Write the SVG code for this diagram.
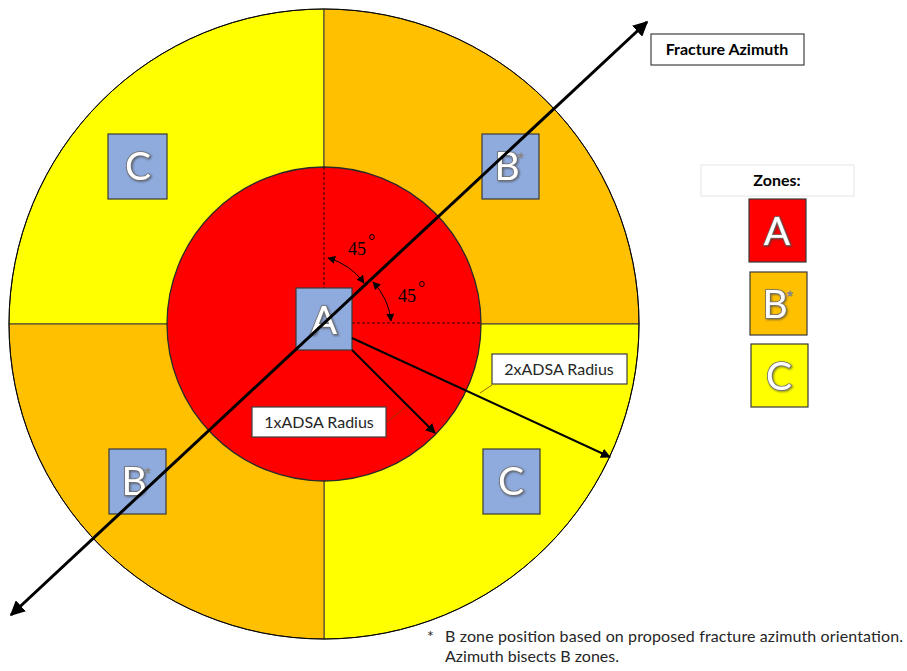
<svg xmlns="http://www.w3.org/2000/svg" width="907" height="671" viewBox="0 0 907 671">
<style>
.zone{stroke:#3a3a3a;stroke-width:1}
.box{fill:#8FAADC;stroke:#3a3a3a;stroke-width:1.2}
.let{font-family:Lato,"Open Sans","Liberation Sans",sans-serif;font-size:39px;fill:#ffffff;text-anchor:middle;stroke:#707070;stroke-width:1.6;paint-order:stroke;filter:url(#sh)}
.ast{font-family:"Liberation Sans",sans-serif;font-size:15px;fill:#ffffff;stroke:#808080;stroke-width:0.7}
.lbl{fill:#ffffff;stroke:#404040;stroke-width:1.2}
.t{font-family:Lato,"Liberation Sans",sans-serif;font-size:16px;fill:#262626;text-anchor:middle}
.b{font-weight:bold;fill:#000}
.deg{font-family:"Liberation Serif","DejaVu Serif",serif;font-size:18px;fill:#000}
.dash{stroke:#000;stroke-width:0.8;stroke-dasharray:3 2;fill:none}
.ang{stroke:#000;stroke-width:1;fill:none;marker-start:url(#ah);marker-end:url(#ah)}
.rad{stroke:#000;stroke-width:2;fill:none;marker-end:url(#ar)}
.lead{stroke:#7f3f00;stroke-width:0.8;fill:none}
</style>
<defs>
<filter id="sh" x="-20%" y="-20%" width="140%" height="140%">
<feDropShadow dx="1" dy="1" stdDeviation="0.8" flood-color="#404040" flood-opacity="0.7"/>
</filter>
<marker id="az" viewBox="0 0 10 10" refX="9" refY="5" markerWidth="5" markerHeight="5" orient="auto-start-reverse" markerUnits="strokeWidth">
<path d="M0,0 L10,5 L0,10 Z" fill="#000"/>
</marker>
<marker id="ar" viewBox="0 0 10 10" refX="9" refY="5" markerWidth="5" markerHeight="5" orient="auto-start-reverse" markerUnits="strokeWidth">
<path d="M0,0 L10,5 L0,10 Z" fill="#000"/>
</marker>
<marker id="ah" viewBox="0 0 10 10" refX="9" refY="5" markerWidth="8" markerHeight="8" orient="auto-start-reverse" markerUnits="strokeWidth">
<path d="M0,0 L10,5 L0,10 Z" fill="#000"/>
</marker>
</defs>
<rect width="907" height="671" fill="#ffffff"/>

<g id="zones">
<path class="zone" fill="#FFFF00" d="M324,324 L9,324 A315,315 0 0 1 324,9 Z"/>
<path class="zone" fill="#FFC000" d="M324,324 L324,9 A315,315 0 0 1 639,324 Z"/>
<path class="zone" fill="#FFFF00" d="M324,324 L639,324 A315,315 0 0 1 324,639 Z"/>
<path class="zone" fill="#FFC000" d="M324,324 L324,639 A315,315 0 0 1 9,324 Z"/>
<circle cx="324" cy="324" r="315" fill="none" stroke="#000" stroke-width="1"/>
<circle id="zoneA" cx="324" cy="324" r="157" fill="#FF0000" stroke="#2a2a2a" stroke-width="1.3"/>
</g>

<g id="angles">
<line class="dash" x1="324" y1="167" x2="324" y2="288"/>
<line class="dash" x1="352" y1="323" x2="481" y2="323"/>
<path class="ang" d="M328,258 A66,66 0 0 1 364,283"/>
<path class="ang" d="M373,282 A66,66 0 0 1 391,321"/>
<text class="deg" x="348" y="255">45</text><text class="deg" x="368" y="247" font-size="10">°</text>
<text class="deg" x="398" y="302">45</text><text class="deg" x="418" y="294" font-size="10">°</text>
</g>

<g id="node-C1"><rect class="box" x="108" y="134" width="59" height="65"/><text class="let" x="138" y="180">C</text></g>
<g id="node-B1"><rect class="box" x="482" y="134" width="57" height="65"/><text class="let" x="507" y="180">B</text><text class="ast" x="518" y="163">*</text></g>
<g id="node-B2"><rect class="box" x="109" y="449" width="57" height="65"/><text class="let" x="134" y="495">B</text><text class="ast" x="145" y="478">*</text></g>
<g id="node-C2"><rect class="box" x="483" y="449" width="57" height="65"/><text class="let" x="511" y="495">C</text></g>
<g id="node-A"><rect class="box" x="296" y="288" width="56" height="62"/><text class="let" x="324" y="334">A</text></g>

<g id="connectors">
<line class="rad" x1="352" y1="350" x2="435" y2="433"/>
<line class="rad" x1="352" y1="338" x2="610" y2="457"/>
<line class="lead" x1="387" y1="422" x2="407" y2="406"/>
<line class="lead" x1="480" y1="393" x2="492" y2="385"/>
<line stroke="#000" stroke-width="3" x1="11" y1="615" x2="647" y2="22" marker-start="url(#az)" marker-end="url(#az)"/>
</g>

<g id="label-1x"><rect class="lbl" x="252" y="407" width="134" height="30"/><text class="t" x="319" y="428">1xADSA Radius</text></g>
<g id="label-2x"><rect class="lbl" x="492" y="354" width="135" height="30"/><text class="t" x="559" y="375">2xADSA Radius</text></g>
<g id="label-azimuth"><rect x="651" y="34" width="153" height="31" fill="#fff" stroke="#404040" stroke-width="1.2"/><text class="t b" x="727" y="55">Fracture Azimuth</text></g>

<g id="legend">
<rect x="701" y="165" width="153" height="31" fill="#fff" stroke="#e6e6e6" stroke-width="1"/>
<text class="t b" x="777" y="186">Zones:</text>
<g id="legend-A"><rect x="749" y="199" width="57" height="63" fill="#FF0000" stroke="#3a3a3a" stroke-width="1.2"/><text class="let" x="777" y="245">A</text></g>
<g id="legend-B"><rect x="750" y="272" width="57" height="63" fill="#FFC000" stroke="#3a3a3a" stroke-width="1.2"/><text class="let" x="775" y="318">B</text><text class="ast" x="787" y="301">*</text></g>
<g id="legend-C"><rect x="751" y="344" width="57" height="63" fill="#FFFF00" stroke="#3a3a3a" stroke-width="1.2"/><text class="let" x="779" y="390">C</text></g>
</g>

<g id="footnote" font-family="Lato,'Liberation Sans',sans-serif" font-size="16" fill="#262626">
<text x="427" y="642">*</text>
<text x="445" y="642" textLength="458">B zone position based on proposed fracture azimuth orientation.</text>
<text x="445" y="662">Azimuth bisects B zones.</text>
</g>
</svg>
